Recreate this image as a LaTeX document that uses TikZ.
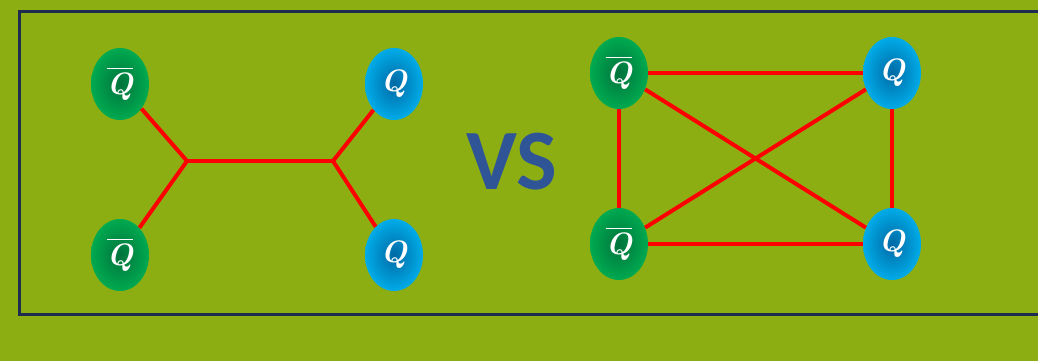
\documentclass[tikz,border=0pt]{standalone}
\usepackage{amssymb,amsmath}
\usepackage{xcolor}
\usepackage{fontspec}
\usepackage{tikz}
\usetikzlibrary{shapes.geometric}
\usetikzlibrary{positioning}

\newfontfamily\vsfont{Carlito}
\newcommand{\quarkQ}{\textbf{\textit{Q}}}
\newcommand{\quarkQbar}{$\overline{\mbox{\quarkQ}}$}

\definecolor{bgolive}{RGB}{141,174,18}
\definecolor{framenavy}{RGB}{30,44,80}
\definecolor{qbarout}{RGB}{0,170,80}
\definecolor{qbarin}{RGB}{0,115,60}
\definecolor{qout}{RGB}{0,172,232}
\definecolor{qin}{RGB}{0,105,165}
\definecolor{vsblue}{RGB}{47,85,151}

\begin{document}
\begin{tikzpicture}[
                x = 1pt, y = -1pt, % pixel like units
                node distance = 171pt,
                semithick
        ]

        \tikzstyle{quark}=[
            ellipse,
            minimum width = 58pt,
            minimum height = 72pt,
            inner sep = 0pt,
            text = white,
            font = \fontsize{31}{31}\selectfont
        ]
        \tikzstyle{qbar}=[quark, inner color = qbarin, outer color = qbarout]
        \tikzstyle{q}=[quark, inner color = qin, outer color = qout]
        \tikzstyle{string}=[red, line width = 4pt]

        % background and frame
        \fill[bgolive] (0,0) rectangle (1038,361);
        \useasboundingbox (0,0) rectangle (1038,361);
        \draw[framenavy, line width = 3pt] (1045,12) -- (19,12) -- (19,314) -- (1045,314);

        % Y shaped junction
        \node[qbar] (A1) at (120,84) {\quarkQbar};
        \node[qbar] (A3) [below of=A1] {\quarkQbar};
        \node[q] (A2) at (394,84) {\quarkQ};
        \node[q] (A4) [below of=A2] {\quarkQ};
        \coordinate (J1) at (187,161);
        \coordinate (J2) at (333,161);

        \draw[string] (A1) -- (J1);
        \draw[string] (A3) -- (J1);
        \draw[string] (J1) -- (J2);
        \draw[string] (J2) -- (A2);
        \draw[string] (J2) -- (A4);

        \node[text = vsblue, font = \vsfont\bfseries\fontsize{86}{86}\selectfont] (VS) at (512,162) {VS};

        % all pairs connected
        \node[qbar] (B1) at (619,73) {\quarkQbar};
        \node[qbar] (B3) [below of=B1] {\quarkQbar};
        \node[q] (B2) at (892,73) {\quarkQ};
        \node[q] (B4) [below of=B2] {\quarkQ};

        \draw[string] (B1) -- (B2);
        \draw[string] (B3) -- (B4);
        \draw[string] (B1) -- (B3);
        \draw[string] (B2) -- (B4);
        \draw[string] (B1) -- (B4);
        \draw[string] (B3) -- (B2);

\end{tikzpicture}
\end{document}
